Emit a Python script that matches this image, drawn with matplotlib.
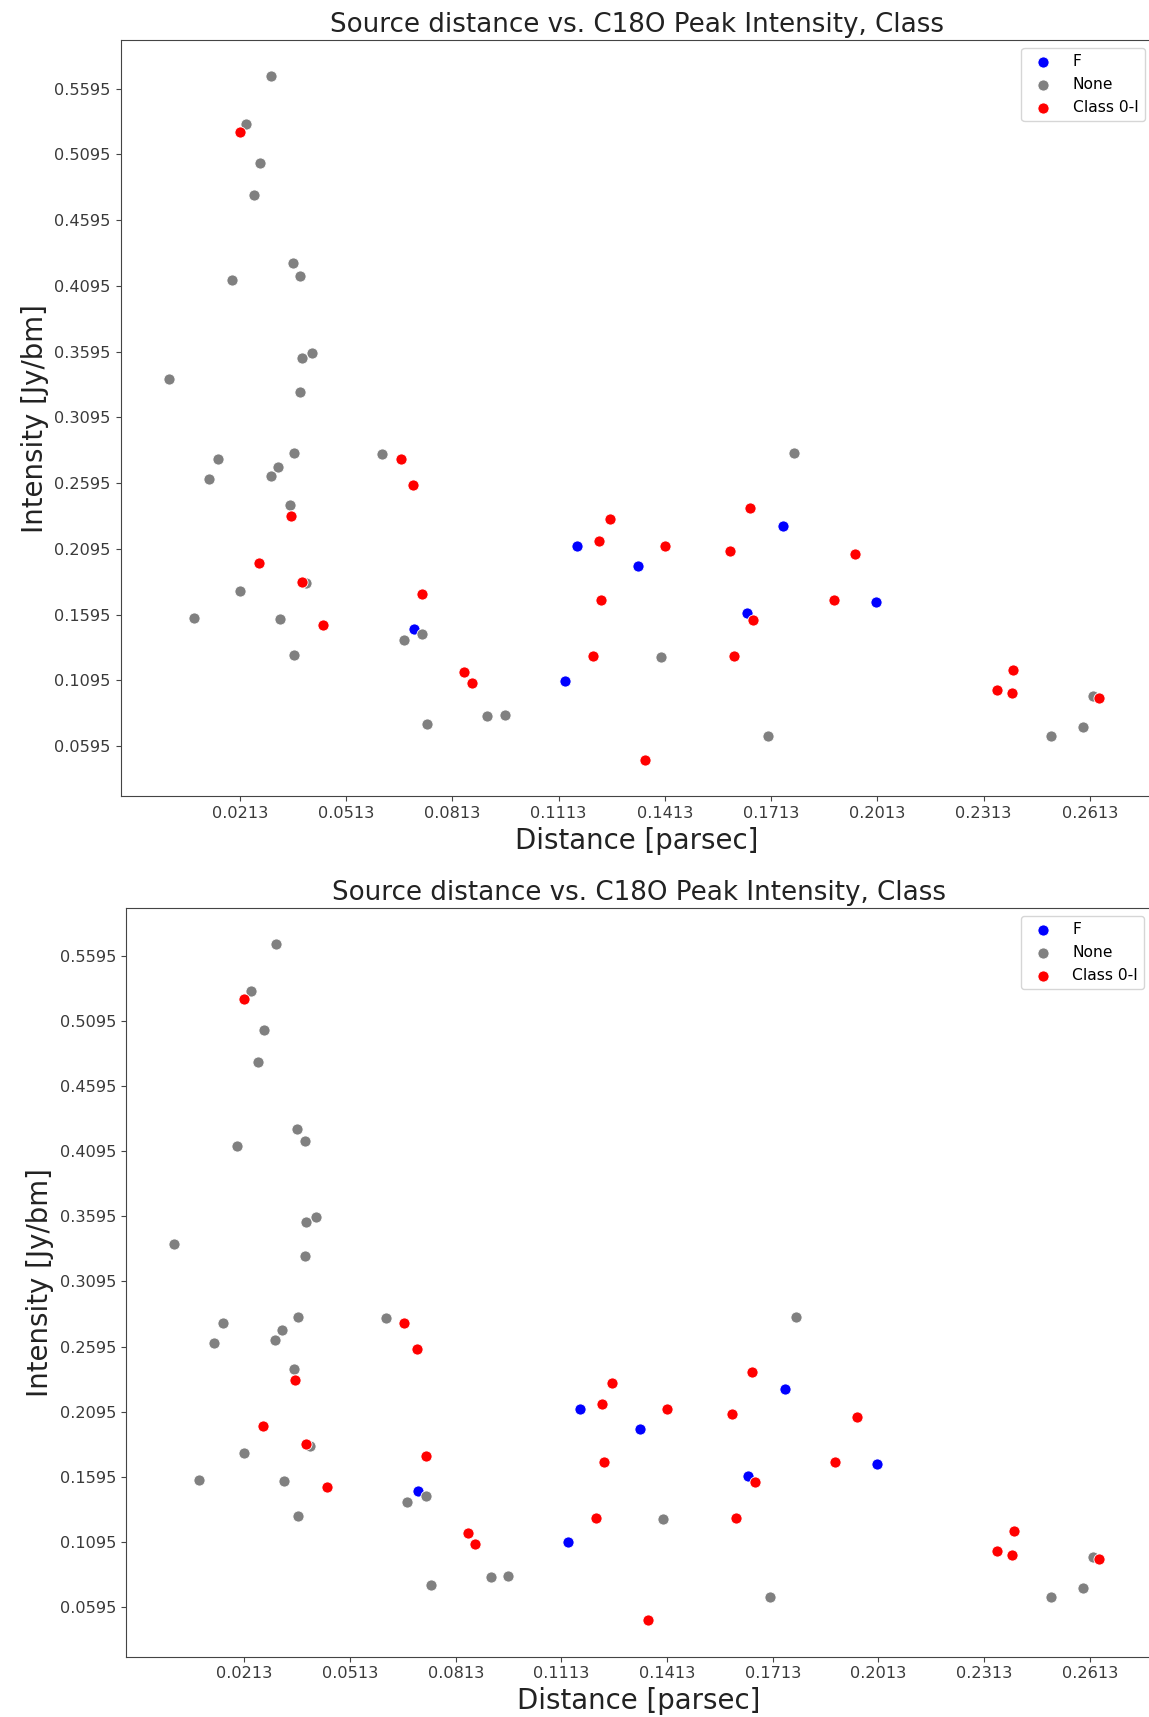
import matplotlib
matplotlib.use("Agg")
import matplotlib.pyplot as plt

# distance [pc] / C18O peak intensity [Jy/bm] per source class
f_dist = [0.0706, 0.1131, 0.1166, 0.1748, 0.1337, 0.2008, 0.1644]
f_int = [0.1483, 0.1090, 0.2116, 0.2270, 0.1963, 0.1691, 0.1603]

none_dist = [0.0302, 0.0231, 0.0270, 0.0253, 0.0362, 0.0191, 0.0384, 0.0416,
             0.0388, 0.0013, 0.0384, 0.0152, 0.0126, 0.0320, 0.0301, 0.0366,
             0.0615, 0.0354, 0.0399, 0.0213, 0.0083, 0.0327, 0.0728, 0.0676,
             0.0366, 0.0912, 0.0961, 0.0742, 0.1778, 0.1401, 0.2622, 0.2593,
             0.2502, 0.1704]
none_int = [0.5689, 0.5324, 0.5030, 0.4785, 0.4266, 0.4139, 0.4172, 0.3587,
            0.3549, 0.3385, 0.3291, 0.2778, 0.2623, 0.2719, 0.2646, 0.2823,
            0.2813, 0.2425, 0.1831, 0.1775, 0.1572, 0.1562, 0.1445, 0.1400,
            0.1290, 0.0821, 0.0834, 0.0760, 0.2823, 0.1270, 0.0976, 0.0740,
            0.0669, 0.0669]

c01_dist = [0.0213, 0.0667, 0.0702, 0.0358, 0.0266, 0.0388, 0.0728, 0.0449,
            0.0847, 0.0869, 0.1653, 0.1258, 0.1228, 0.1414, 0.1596, 0.1951,
            0.1233, 0.1891, 0.1662, 0.1211, 0.1609, 0.2397, 0.2350, 0.2392,
            0.2639, 0.1358]
c01_int = [0.5263, 0.2778, 0.2577, 0.2341, 0.1986, 0.1846, 0.1752, 0.1516,
           0.1161, 0.1077, 0.2402, 0.2318, 0.2151, 0.2118, 0.2080, 0.2057,
           0.1704, 0.1704, 0.1552, 0.1280, 0.1280, 0.1176, 0.1021, 0.0996,
           0.0963, 0.0491]

x_ticks = [0.0213 + 0.03 * i for i in range(9)]
y_ticks = [0.0595 + 0.05 * i for i in range(11)]

W, H, DPI = 1149, 1717, 100
fig = plt.figure(figsize=(W / DPI, H / DPI), dpi=DPI)

# two copies of the same plot stacked
positions = [
    [120.5 / W, 1 - 796.3 / H, 1032.0 / W, 755.8 / H],
    [125.6 / W, 1 - 1656.6 / H, 1026.6 / W, 748.2 / H],
]

for pos in positions:
    ax = fig.add_axes(pos)
    kw = dict(s=64, edgecolors="white", linewidths=0.6)
    ax.scatter(f_dist, f_int, color="blue", label="F", **kw)
    ax.scatter(none_dist, none_int, color="grey", label="None", **kw)
    ax.scatter(c01_dist, c01_int, color="red", label="Class 0-I", **kw)

    ax.set_xlim(-0.0124, 0.2790)
    ax.set_ylim(0.0212, 0.5962)
    ax.set_xticks(x_ticks)
    ax.set_xticklabels([f"{t:.4f}" for t in x_ticks])
    ax.set_yticks(y_ticks)
    ax.set_yticklabels([f"{t:.4f}" for t in y_ticks])
    ax.tick_params(labelsize=11.6, colors="#444444", labelcolor="#3a3a3a")
    for sp in ax.spines.values():
        sp.set_color("#444444")

    ax.set_title("Source distance vs. C18O Peak Intensity, Class",
                 fontsize=18.8, color="#222222")
    ax.set_xlabel("Distance [parsec]", fontsize=19.9, color="#222222")
    ax.set_ylabel("Intensity [Jy/bm]", fontsize=19.9, color="#222222")
    ax.legend(loc="upper right", fontsize=11.2, handletextpad=0.9)

fig.savefig("out.png", dpi=DPI)
